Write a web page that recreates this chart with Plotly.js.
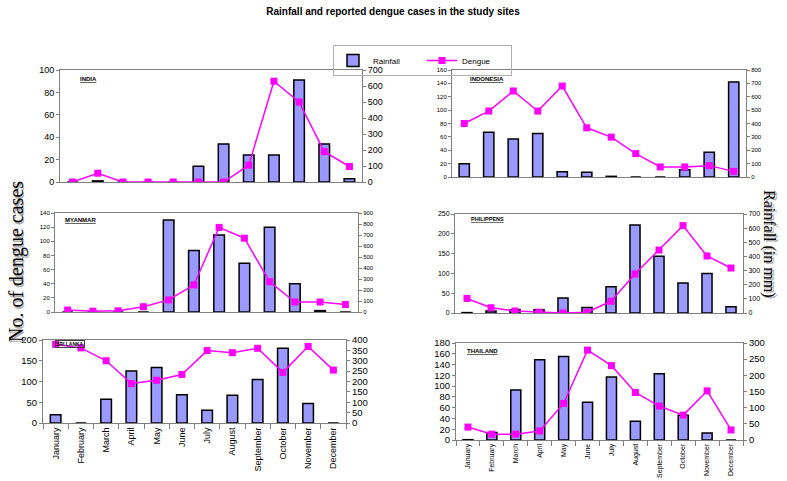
<!DOCTYPE html>
<html>
<head>
<meta charset="utf-8">
<script src="https://cdn.plot.ly/plotly-3.0.1.min.js"></script>
<style>
  html, body { margin: 0; padding: 0; background: #ffffff; }
  #chart { width: 787px; height: 481px; }
</style>
</head>
<body>
<div id="chart"></div>
<script>
// ---- Data ----
const months = ['January', 'February', 'March', 'April', 'May', 'June', 'July',
  'August', 'September', 'October', 'November', 'December'];

const indiaRainfall = [0, 1, 0, 0, 0, 14, 34, 24, 24, 91, 34, 3];
const indiaDengue = [0, 55, 0, 0, 0, 0, 0, 105, 630, 500, 190, 97];

const indonesiaRainfall = [20, 67, 57, 65, 8, 7, 1, 0, 0, 11, 37, 142];
const indonesiaDengue = [400, 493, 643, 493, 680, 368, 298, 175, 75, 75, 85, 42];

const myanmarRainfall = [0, 0, 0, 0, 130, 87, 109, 69, 120, 40, 2, 0];
const myanmarDengue = [18, 7, 11, 48, 110, 246, 769, 671, 275, 91, 91, 68];

const philippinesRainfall = [1, 5, 8, 8, 38, 14, 66, 222, 143, 76, 100, 16];
const philippinesDengue = [103, 37, 14, 6, 0, 6, 83, 276, 445, 618, 403, 318];

const sriLankaRainfall = [20, 0, 57, 125, 134, 68, 31, 67, 105, 180, 47, 0];
const sriLankaDengue = [379, 362, 300, 190, 206, 234, 349, 339, 360, 244, 369, 255];

const thailandRainfall = [0.6, 14, 93, 149, 155, 70, 117, 35, 123, 46, 13, 0];
const thailandDengue = [40, 18, 18, 28, 113, 278, 230, 147, 105, 77, 152, 31];

const seriesNames = ['Rainfall', 'Dengue'];
const chartTitle = 'Rainfall and reported dengue cases in the study sites';
const leftLabel = 'No. of dengue cases';
const rightLabel = 'Rainfall (in mm)';

// ---- Layout config (pixel geometry, styles) ----
const W = 787, H = 481;
const NARROW = 'Liberation Sans Narrow, Arial Narrow, Liberation Sans, Arial, sans-serif';
const SANS = 'Liberation Sans, Arial, sans-serif';
const SERIF = 'Liberation Serif, Times New Roman, DejaVu Serif, serif';

const panels = [
  { name: 'INDIA', rain: indiaRainfall, dengue: indiaDengue,
    px: [60, 362], py: [70, 182], left: [100, 20], right: [700, 100],
    tick: 9, months: false, label: [78, 79], labelSize: 6 },
  { name: 'INDONESIA', rain: indonesiaRainfall, dengue: indonesiaDengue,
    px: [452, 746], py: [70, 177], left: [160, 20], right: [800, 100],
    tick: 6, months: false, label: [468, 79], labelSize: 6 },
  { name: 'MYANMAR', rain: myanmarRainfall, dengue: myanmarDengue,
    px: [55, 358], py: [213, 312], left: [140, 20], right: [900, 100],
    tick: 6, months: false, label: [63, 220], labelSize: 6 },
  { name: 'PHILIPPENS', rain: philippinesRainfall, dengue: philippinesDengue,
    px: [455, 743], py: [214, 313], left: [250, 50], right: [700, 100],
    tick: 7, months: false, label: [469, 219], labelSize: 5.5 },
  { name: 'SRI LANKA', rain: sriLankaRainfall, dengue: sriLankaDengue,
    px: [43, 346], py: [340, 423], left: [200, 50], right: [400, 50],
    tick: 9.5, months: true, monthSize: 9, label: [55, 344], labelSize: 5, boxed: true },
  { name: 'THAILAND', rain: thailandRainfall, dengue: thailandDengue,
    px: [456, 743], py: [343, 440], left: [180, 20], right: [300, 50],
    tick: 9.5, months: true, monthSize: 7, label: [465, 351], labelSize: 6 }
];

const traces = [];
const layout = {
  width: W, height: H,
  margin: { l: 0, r: 0, t: 0, b: 0 },
  paper_bgcolor: '#ffffff',
  plot_bgcolor: 'rgba(0,0,0,0)',
  showlegend: true,
  bargap: 0.6,
  title: {
    text: '<b>' + chartTitle + '</b>',
    x: 393 / W, y: 1 - 11 / H, xanchor: 'center', yanchor: 'middle',
    xref: 'paper', yref: 'paper',
    font: { family: NARROW, size: 10, color: '#000' }
  },
  legend: {
    orientation: 'h',
    x: 333 / W, y: 1 - 45 / H, xanchor: 'left', yanchor: 'top',
    bordercolor: '#b0b0b0', borderwidth: 1,
    bgcolor: 'rgba(255,255,255,0)',
    font: { family: NARROW, size: 8, color: '#000' },
    entrywidth: 44, entrywidthmode: 'pixels',
    itemwidth: 30
  },
  annotations: []
};

panels.forEach((p, i) => {
  const n = i + 1;
  const xa = n === 1 ? 'x' : 'x' + n;
  const yl = n === 1 ? 'y' : 'y' + n;
  const yr = 'y' + (n + 6);
  const xKey = n === 1 ? 'xaxis' : 'xaxis' + n;
  const ylKey = n === 1 ? 'yaxis' : 'yaxis' + n;
  const yrKey = 'yaxis' + (n + 6);

  traces.push({
    type: 'bar', name: seriesNames[0], x: months, y: p.rain,
    xaxis: xa, yaxis: yl, width: 0.42,
    marker: { color: '#9999FF', line: { color: '#000000', width: 1.5 } },
    showlegend: i === 0, legendgroup: 'rain', hoverinfo: 'skip'
  });
  traces.push({
    type: 'scatter', mode: 'lines+markers', name: seriesNames[1], x: months, y: p.dengue,
    xaxis: xa, yaxis: yr,
    line: { color: '#FF00FF', width: 1.5 },
    marker: { symbol: 'square', size: 7, color: '#FF00FF' },
    showlegend: i === 0, legendgroup: 'dengue', hoverinfo: 'skip'
  });

  const xd = [p.px[0] / W, p.px[1] / W];
  const yd = [1 - p.py[1] / H, 1 - p.py[0] / H];

  layout[xKey] = {
    domain: xd, anchor: yl, type: 'category',
    range: [-0.5, 11.5], fixedrange: true,
    showline: true, linecolor: '#808080', linewidth: 1, mirror: true,
    showgrid: false, zeroline: false,
    showticklabels: p.months,
    ticks: p.months ? 'outside' : '', ticklen: 5, tickcolor: '#808080',
    tickson: 'boundaries', tickangle: -90,
    tickfont: { family: p.months && p.monthSize > 8 ? SANS : NARROW, size: p.monthSize || 8, color: '#000' }
  };
  layout[ylKey] = {
    domain: yd, anchor: xa, range: [0, p.left[0]], dtick: p.left[1], tick0: 0,
    showline: true, linecolor: '#808080', linewidth: 1,
    showgrid: false, zeroline: false,
    ticks: 'outside', ticklen: 3, tickcolor: '#808080',
    tickfont: { family: NARROW, size: p.tick, color: '#000' }, fixedrange: true
  };
  layout[yrKey] = {
    overlaying: yl, side: 'right', anchor: xa,
    range: [0, p.right[0]], dtick: p.right[1], tick0: 0,
    showline: true, linecolor: '#808080', linewidth: 1,
    showgrid: false, zeroline: false,
    ticks: 'outside', ticklen: 3, tickcolor: '#808080',
    tickfont: { family: NARROW, size: p.tick, color: '#000' }, fixedrange: true
  };

  const ann = {
    text: '<b><u>' + p.name + '</u></b>',
    xref: 'paper', yref: 'paper',
    x: p.label[0] / W, y: 1 - p.label[1] / H,
    xanchor: 'left', yanchor: 'middle', showarrow: false,
    font: { family: SANS, size: p.labelSize, color: '#000' }
  };
  if (p.boxed) {
    ann.bordercolor = '#404040';
    ann.borderwidth = 1;
    ann.borderpad = 0;
    ann.text = '<b>' + p.name + '</b>';
  }
  layout.annotations.push(ann);
});

// Side labels (with a light shadow, as in the reference)
layout.annotations.push(
  { text: leftLabel, xref: 'paper', yref: 'paper', x: 17.5 / W, y: 1 - 263.5 / H,
    textangle: -90, showarrow: false, xanchor: 'center', yanchor: 'middle',
    font: { family: SERIF, size: 20, color: '#b0b0b0' } },
  { text: leftLabel, xref: 'paper', yref: 'paper', x: 16 / W, y: 1 - 262 / H,
    textangle: -90, showarrow: false, xanchor: 'center', yanchor: 'middle',
    font: { family: SERIF, size: 20, color: '#000' } },
  { text: rightLabel, xref: 'paper', yref: 'paper', x: 770.5 / W, y: 1 - 245 / H,
    textangle: 90, showarrow: false, xanchor: 'center', yanchor: 'middle',
    font: { family: SERIF, size: 16, color: '#b0b0b0' } },
  { text: rightLabel, xref: 'paper', yref: 'paper', x: 769 / W, y: 1 - 244 / H,
    textangle: 90, showarrow: false, xanchor: 'center', yanchor: 'middle',
    font: { family: SERIF, size: 16, color: '#000' } }
);

Plotly.newPlot('chart', traces, layout, { staticPlot: true, displayModeBar: false });
</script>
</body>
</html>
